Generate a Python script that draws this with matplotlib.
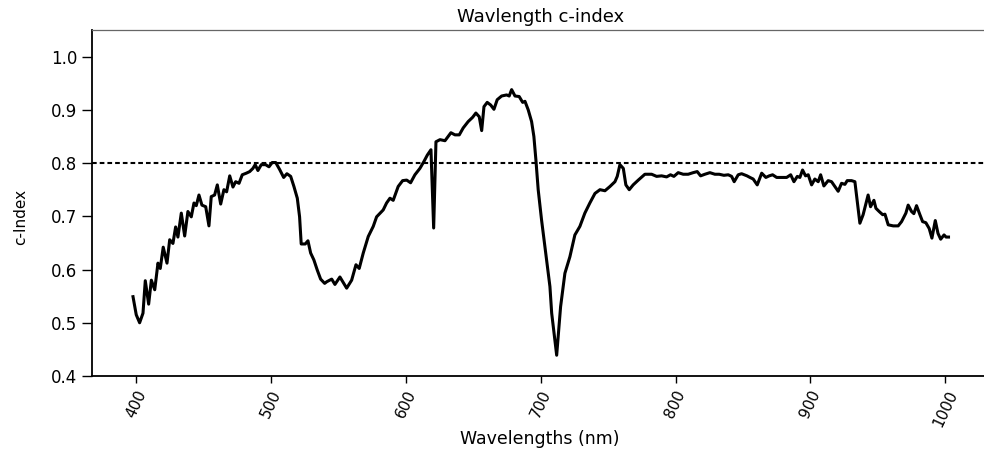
import numpy as np
import matplotlib
matplotlib.use("Agg")
import matplotlib.pyplot as plt

# wavelengths (nm) and c-index
wavelengths = [
    397.8, 400.2, 402.7, 405.2, 406.9, 409.4, 411.4, 413.9, 416.3, 418.0,
    420.2, 423.0, 425.0, 427.4, 429.4, 431.1, 433.6, 436.1, 438.5, 441.0,
    443.0, 444.7, 446.7, 448.9, 451.7, 454.1, 455.8, 458.3, 460.3, 462.8,
    465.2, 467.2, 469.5, 471.9, 473.9, 476.4, 478.8, 481.8, 484.3, 486.7,
    488.4, 490.4, 492.9, 496.1, 498.6, 501.0, 503.6, 506.5, 509.5, 511.9,
    514.7, 517.1, 519.6, 521.3, 522.5, 525.5, 527.5, 529.5, 531.9, 534.4,
    536.9, 539.9, 541.4, 545.1, 547.5, 551.2, 556.2, 559.9, 563.1, 565.5,
    568.5, 572.2, 575.9, 578.4, 583.3, 585.8, 588.3, 590.7, 594.4, 597.7,
    600.7, 603.6, 606.8, 610.5, 613.5, 616.0, 618.7, 620.7, 622.4, 625.4,
    629.1, 633.5, 636.5, 639.7, 642.6, 646.3, 649.6, 652.0, 654.5, 656.3,
    658.0, 660.4, 663.0, 665.4, 667.8, 671.1, 674.8, 676.7, 678.5, 681.0,
    684.1, 686.7, 688.4, 690.8, 693.3, 695.0, 696.5, 698.2, 700.7, 703.2,
    706.9, 708.2, 711.9, 714.8, 718.0, 721.7, 725.4, 729.1, 732.8, 736.5,
    740.3, 744.0, 747.7, 751.4, 755.1, 756.8, 758.8, 761.3, 763.2, 765.7,
    768.6, 772.4, 777.3, 782.3, 786.0, 789.7, 793.4, 796.3, 798.8, 802.0,
    805.7, 809.4, 813.1, 816.1, 818.6, 821.8, 825.5, 829.2, 832.4, 835.9,
    839.1, 841.6, 843.5, 846.5, 849.0, 853.0,
    855.2, 857.6, 860.6, 863.9, 867.0, 869.5, 872.0, 875.0, 878.7, 882.4,
    885.4, 887.8, 890.3, 892.2, 894.2, 896.4, 898.4, 900.9, 903.3, 905.8,
    907.6, 910.0, 913.2, 915.7, 918.2, 920.6, 923.1, 925.6, 927.3, 930.5,
    933.0, 936.7, 939.1, 942.8, 944.6, 947.1, 948.6, 951.0, 953.6, 955.3,
    957.7, 961.4, 965.1, 967.6, 970.8, 972.5, 975.0, 976.7, 978.7, 981.2,
    983.2, 985.6, 988.1, 990.1, 992.6, 994.6, 996.6, 999.1, 1000.6, 1002.4,
]
c_index = [
    0.549, 0.515, 0.500, 0.518, 0.579, 0.535, 0.580, 0.562, 0.612, 0.602,
    0.642, 0.612, 0.656, 0.649, 0.680, 0.661, 0.706, 0.663, 0.709, 0.699,
    0.725, 0.720, 0.740, 0.721, 0.718, 0.682, 0.737, 0.740, 0.759, 0.723,
    0.750, 0.746, 0.776, 0.755, 0.765, 0.762, 0.778, 0.781, 0.784, 0.790,
    0.797, 0.786, 0.797, 0.797, 0.793, 0.801, 0.801, 0.788, 0.773, 0.780,
    0.775, 0.756, 0.734, 0.699, 0.648, 0.648, 0.654, 0.631, 0.618, 0.599,
    0.582, 0.574, 0.577, 0.582, 0.572, 0.586, 0.565, 0.580, 0.609, 0.602,
    0.631, 0.662, 0.681, 0.699, 0.712, 0.725, 0.734, 0.730, 0.756, 0.767,
    0.768, 0.763, 0.778, 0.790, 0.803, 0.815, 0.825, 0.678, 0.840, 0.844,
    0.842, 0.857, 0.853, 0.853, 0.866, 0.878, 0.886, 0.894, 0.887, 0.861,
    0.906, 0.914, 0.909, 0.901, 0.919, 0.926, 0.928, 0.926, 0.938, 0.926,
    0.925, 0.914, 0.916, 0.900, 0.878, 0.850, 0.806, 0.750, 0.693, 0.643,
    0.568, 0.518, 0.439, 0.530, 0.593, 0.624, 0.665, 0.681, 0.706, 0.725,
    0.743, 0.750, 0.748, 0.756, 0.765, 0.775, 0.797, 0.790, 0.759, 0.750,
    0.759, 0.768, 0.779, 0.779, 0.775, 0.776, 0.774, 0.778, 0.775, 0.782,
    0.779, 0.779, 0.782, 0.784, 0.776, 0.779, 0.782, 0.779, 0.779, 0.777,
    0.778, 0.775, 0.765, 0.778, 0.780, 0.776,
    0.773, 0.770, 0.759, 0.781, 0.773, 0.776, 0.778, 0.773, 0.773, 0.773,
    0.778, 0.765, 0.775, 0.773, 0.787, 0.776, 0.778, 0.759, 0.770, 0.765,
    0.778, 0.757, 0.767, 0.765, 0.756, 0.747, 0.762, 0.760, 0.767, 0.767,
    0.765, 0.687, 0.703, 0.740, 0.718, 0.730, 0.715, 0.709, 0.703, 0.704,
    0.684, 0.682, 0.682, 0.690, 0.706, 0.721, 0.709, 0.705, 0.720, 0.703,
    0.690, 0.688, 0.677, 0.659, 0.692, 0.668, 0.657, 0.665, 0.661, 0.661,
]
threshold = 0.8
x_ticks = [400, 500, 600, 700, 800, 900, 1000]
y_ticks = [0.4, 0.5, 0.6, 0.7, 0.8, 0.9, 1.0]

fig = plt.figure(figsize=(9.84, 4.49), dpi=100)
ax = fig.add_axes([0.0935, 0.1626, 0.911, 0.7706])

ax.plot(wavelengths, c_index, color="black", linewidth=2.2)
ax.axhline(threshold, color="black", linewidth=1.5, linestyle=(0, (2.25, 1.45)))

ax.set_xlim(367.4, 1032.0)
ax.set_ylim(0.4, 1.05)
ax.set_xticks(x_ticks)
ax.set_xticklabels([str(t) for t in x_ticks], rotation=65, fontsize=11)
ax.set_yticks(y_ticks)
ax.set_yticklabels([f"{t:.1f}" for t in y_ticks], fontsize=12)
ax.tick_params(axis="y", length=7, width=1)
ax.tick_params(axis="x", length=5, width=1)

ax.spines["right"].set_visible(False)
ax.spines["top"].set_color("#666666")
ax.spines["top"].set_linewidth(0.9)
ax.spines["left"].set_linewidth(1.3)
ax.spines["bottom"].set_linewidth(1.3)

ax.set_title("Wavlength c-index", fontsize=13, pad=6)
ax.set_xlabel("Wavelengths (nm)", fontsize=12.5)
ax.xaxis.set_label_coords(0.5, -0.155)
ax.set_ylabel("c-Index", fontsize=11)
ax.yaxis.set_label_coords(-0.071, 0.46)

fig.savefig("out.png", dpi=100)
